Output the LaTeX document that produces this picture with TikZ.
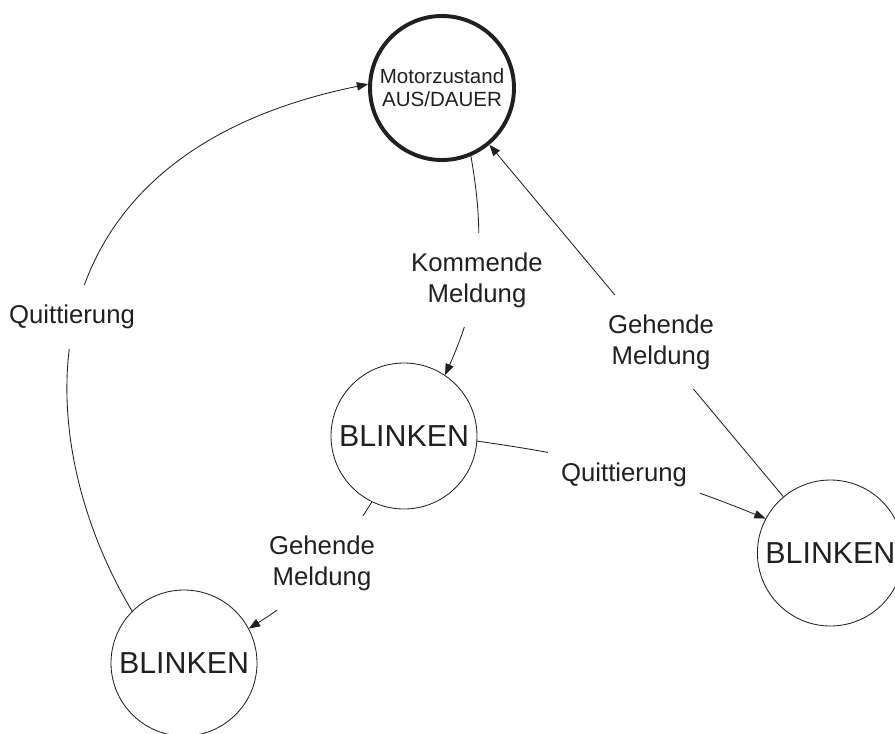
\documentclass[tikz,border=0pt]{standalone}
\usepackage{fontspec}
\setmainfont{Liberation Sans}
\usetikzlibrary{arrows.meta}
\definecolor{ink}{RGB}{35,31,32}

\begin{document}
\begin{tikzpicture}[
      state/.style={draw=ink, circle, minimum size=3.65cm, inner sep=0, line width=0.6pt,
                    text=ink, font=\fontsize{21.6}{26}\selectfont},
      home/.style={draw=ink, circle, minimum size=3.6cm, inner sep=0, line width=2.8pt,
                   text=ink, align=center, font=\fontsize{14.6}{16.4}\selectfont},
      trans/.style={draw=ink, line width=0.6pt, -{Triangle[length=8pt, width=6pt]}},
      lbl/.style={fill=white, text=ink, align=center, inner xsep=9pt, inner ysep=14pt,
                  font=\fontsize{18.3}{22}\selectfont},
    ]
    \useasboundingbox (0,0) rectangle (22.375,-18.325);

    % ---- states ----
    \node[home] (motor) at (11.05,-2.2) {Motorzustand\\AUS/DAUER};
    \node[state] (mid) at (10.1,-10.9) {BLINKEN};
    \node[state] (right) at (20.76,-13.825) {BLINKEN};
    \node[state] (bl) at (4.6,-16.575) {BLINKEN};

    % ---- transitions ----
    \draw[trans] (bl.135) to[out=121, in=191.5, out distance=5cm, in distance=9.1cm] (motor.177);
    \draw[trans] (motor.-67) to[out=-80, in=66] (mid.56);
    \draw[trans] (mid.-4) to[out=-8, in=158] (right.152);
    \draw[trans] (right) -- (motor);
    \draw[trans] (mid.244) to[out=238, in=32] (bl.28);

    % ---- labels (white box breaks the line) ----
    \node[lbl] (kom) at (11.925,-7.0) {Kommende\\Meldung};
    \node[lbl] (quitL) at (1.8,-7.925) {Quittierung};
    \node[lbl] (geh1) at (16.525,-8.55) {Gehende\\Meldung};
    \node[lbl] (quitM) at (15.6,-11.875) {Quittierung};
    \node[lbl] (geh2) at (8.05,-14.075) {Gehende\\Meldung};

  \end{tikzpicture}
\end{document}
